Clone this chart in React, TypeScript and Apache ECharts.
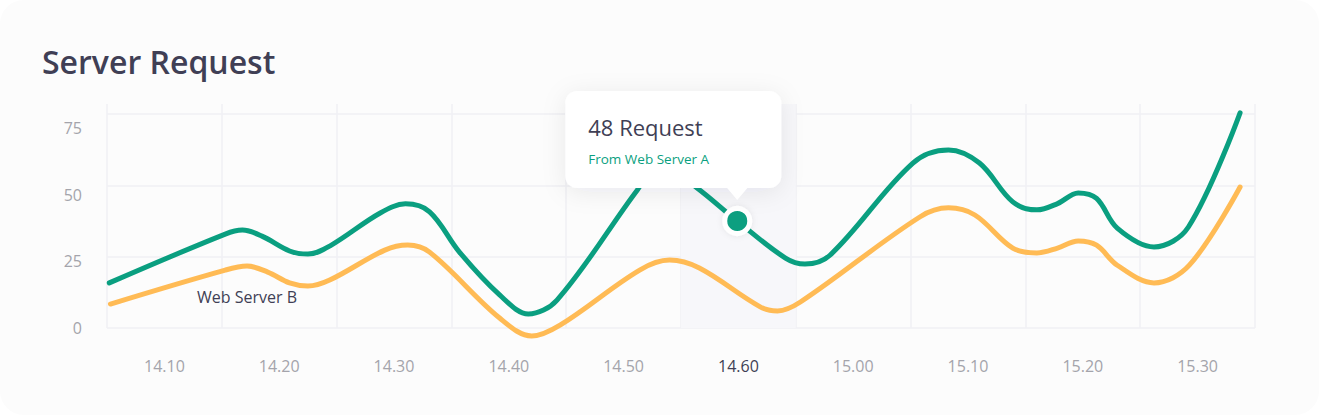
import React, { useEffect, useRef } from 'react';
import * as echarts from 'echarts';

const titleText = 'Server Request';
const categories = ['14.10', '14.20', '14.30', '14.40', '14.50', '14.60', '15.00', '15.10', '15.20', '15.30'];
const activeCategory = '14.60';
const activeIndex = 5;

// Web Server A (green), x measured in category units from the left edge
const greenX = [0.02, 1.03, 1.18, 1.35, 1.59, 1.75, 1.94, 2.38, 2.6, 2.81, 3.07, 3.42, 3.67, 3.92, 4.62, 4.82, 5.14, 5.49, 5.91, 6.08, 6.3, 7.02, 7.33, 7.6, 7.89, 8.1, 8.28, 8.46, 8.62, 8.8, 9.12, 9.42, 9.87];
const greenY = [15.8, 32.9, 34.3, 32.2, 27.0, 25.9, 28.7, 40.3, 43.5, 40.7, 26.6, 11.6, 4.9, 9.8, 48.4, 57.8, 49.1, 37.5, 24.5, 22.4, 25.6, 57.8, 62.4, 57.8, 44.2, 41.4, 43.6, 47.3, 45.4, 35.0, 28.4, 35.4, 75.4];

// Web Server B (yellow)
const yellowX = [0.03, 1.03, 1.22, 1.4, 1.59, 1.75, 1.94, 2.42, 2.62, 2.81, 3.42, 3.7, 3.95, 4.64, 4.9, 5.16, 5.69, 5.84, 6.04, 7.08, 7.33, 7.56, 7.89, 8.1, 8.28, 8.46, 8.62, 8.8, 9.12, 9.43, 9.87];
const yellowY = [8.4, 20.3, 21.7, 19.6, 15.8, 14.7, 16.8, 27.3, 29.1, 26.6, 3.5, -2.8, 1.1, 20.3, 23.8, 21.0, 7.4, 6.0, 9.1, 38.9, 42.1, 39.6, 28.0, 26.3, 28.0, 30.5, 29.0, 22.0, 15.8, 22.1, 49.4];

const labelBIndex = 2;
const seriesBName = 'Web Server B';
const seriesAName = 'Web Server A';

const highlightPoint = [5.49, 37.5];
const tooltipValue = 48;

const GREEN = '#0a9f80';
const YELLOW = '#ffbb55';
const DARK = '#403f55';
const GREY = '#a4a4ab';
const GRID = '#f0f0f4';
const FONT = '"Open Sans", sans-serif';

const zip = (xs: number[], ys: number[]) => xs.map((x, i) => [x, ys[i]]);

export default function App() {
  const ref = useRef<HTMLDivElement>(null);
  useEffect(() => {
    const chart = echarts.init(ref.current!, null, { renderer: 'svg' });
    chart.setOption({
      animation: false,
      textStyle: { fontFamily: FONT },
      title: {
        text: titleText,
        left: 37,
        top: 40,
        textStyle: { fontSize: 32, fontWeight: 600, color: DARK, fontFamily: FONT },
      },
      grid: { left: 107, right: 64, top: 104, bottom: 87 },
      xAxis: [
        {
          type: 'category',
          data: categories,
          boundaryGap: true,
          axisLine: { show: false },
          axisTick: { show: false },
          splitLine: { show: true, lineStyle: { color: GRID, width: 1.5 } },
          axisLabel: {
            fontSize: 16,
            margin: 30,
            fontFamily: FONT,
            color: (v: string) => (v === activeCategory ? DARK : GREY),
          },
        },
        { type: 'value', min: 0, max: categories.length, show: false },
      ],
      yAxis: [
        {
          type: 'value',
          min: 0,
          max: 78.5,
          interval: 25,
          axisLine: { show: false },
          axisTick: { show: false },
          axisLabel: { show: false },
          splitLine: { show: true, showMaxLine: false, lineStyle: { color: GRID, width: 1.5 } },
        },
        {
          type: 'value',
          position: 'left',
          min: 0,
          max: 84,
          interval: 25,
          axisLine: { show: false },
          axisTick: { show: false },
          splitLine: { show: false },
          axisLabel: {
            fontSize: 16,
            margin: 25,
            color: GREY,
            fontFamily: FONT,
            formatter: (v: number) => (v % 25 === 0 ? String(v) : ''),
          },
        },
      ],
      series: [
        {
          name: seriesBName,
          type: 'line',
          xAxisIndex: 1,
          yAxisIndex: 0,
          data: zip(yellowX, yellowY),
          smooth: 0.35,
          showSymbol: false,
          clip: false,
          lineStyle: { color: YELLOW, width: 5, cap: 'round', join: 'round' },
          itemStyle: { color: YELLOW },
          markArea: {
            silent: true,
            itemStyle: { color: '#f7f7fa' },
            data: [[{ xAxis: activeIndex }, { xAxis: activeIndex + 1 }]],
          },
          markPoint: {
            silent: true,
            symbol: 'circle',
            symbolSize: 1,
            itemStyle: { color: 'rgba(0,0,0,0)' },
            label: {
              show: true,
              position: 'bottom',
              distance: 22,
              formatter: seriesBName,
              color: DARK,
              fontSize: 16,
              fontFamily: FONT,
            },
            data: [{ coord: [yellowX[labelBIndex], yellowY[labelBIndex]] }],
          },
        },
        {
          name: seriesAName,
          type: 'line',
          xAxisIndex: 1,
          yAxisIndex: 0,
          data: zip(greenX, greenY),
          smooth: 0.35,
          showSymbol: false,
          clip: false,
          lineStyle: { color: GREEN, width: 5, cap: 'round', join: 'round' },
          itemStyle: { color: GREEN },
        },
        {
          type: 'scatter',
          xAxisIndex: 1,
          yAxisIndex: 0,
          data: [highlightPoint],
          symbolSize: 25,
          z: 5,
          itemStyle: {
            color: GREEN,
            opacity: 1,
            borderColor: '#ffffff',
            borderWidth: 5,
            shadowBlur: 6,
            shadowColor: 'rgba(0,0,0,0.08)',
          },
        },
      ],
    });

    const [px, py] = chart.convertToPixel({ seriesIndex: 2 }, highlightPoint) as number[];
    const boxW = 216;
    const boxH = 97;
    const boxL = px - 172;
    const boxT = py - 130;
    const boxB = boxT + boxH;
    chart.setOption({
      graphic: [
        {
          type: 'rect',
          z: 100,
          shape: { x: boxL, y: boxT, width: boxW, height: boxH, r: 12 },
          style: { fill: '#ffffff', shadowBlur: 24, shadowColor: 'rgba(30,30,60,0.08)', shadowOffsetY: 4 },
        },
        {
          type: 'polygon',
          z: 101,
          shape: { points: [[px - 11, boxB - 1], [px + 11, boxB - 1], [px, boxB + 12]] },
          style: { fill: '#ffffff' },
        },
        {
          type: 'text',
          z: 102,
          x: boxL + 23,
          y: boxT + 36,
          style: {
            text: `${tooltipValue} Request`,
            fill: DARK,
            fontSize: 22,
            fontFamily: FONT,
            verticalAlign: 'middle',
          },
        },
        {
          type: 'text',
          z: 102,
          x: boxL + 23,
          y: boxT + 68,
          style: {
            text: `From ${seriesAName}`,
            fill: GREEN,
            fontSize: 13.5,
            fontFamily: FONT,
            verticalAlign: 'middle',
          },
        },
      ],
    });
    return () => chart.dispose();
  }, []);
  return (
    <div
      style={{
        position: 'fixed',
        left: 0,
        top: 0,
        width: 1319,
        height: 415,
        background: '#fcfcfc',
        borderRadius: 24,
        overflow: 'hidden',
      }}
    >
      <div ref={ref} style={{ width: 1319, height: 415 }} />
    </div>
  );
}
